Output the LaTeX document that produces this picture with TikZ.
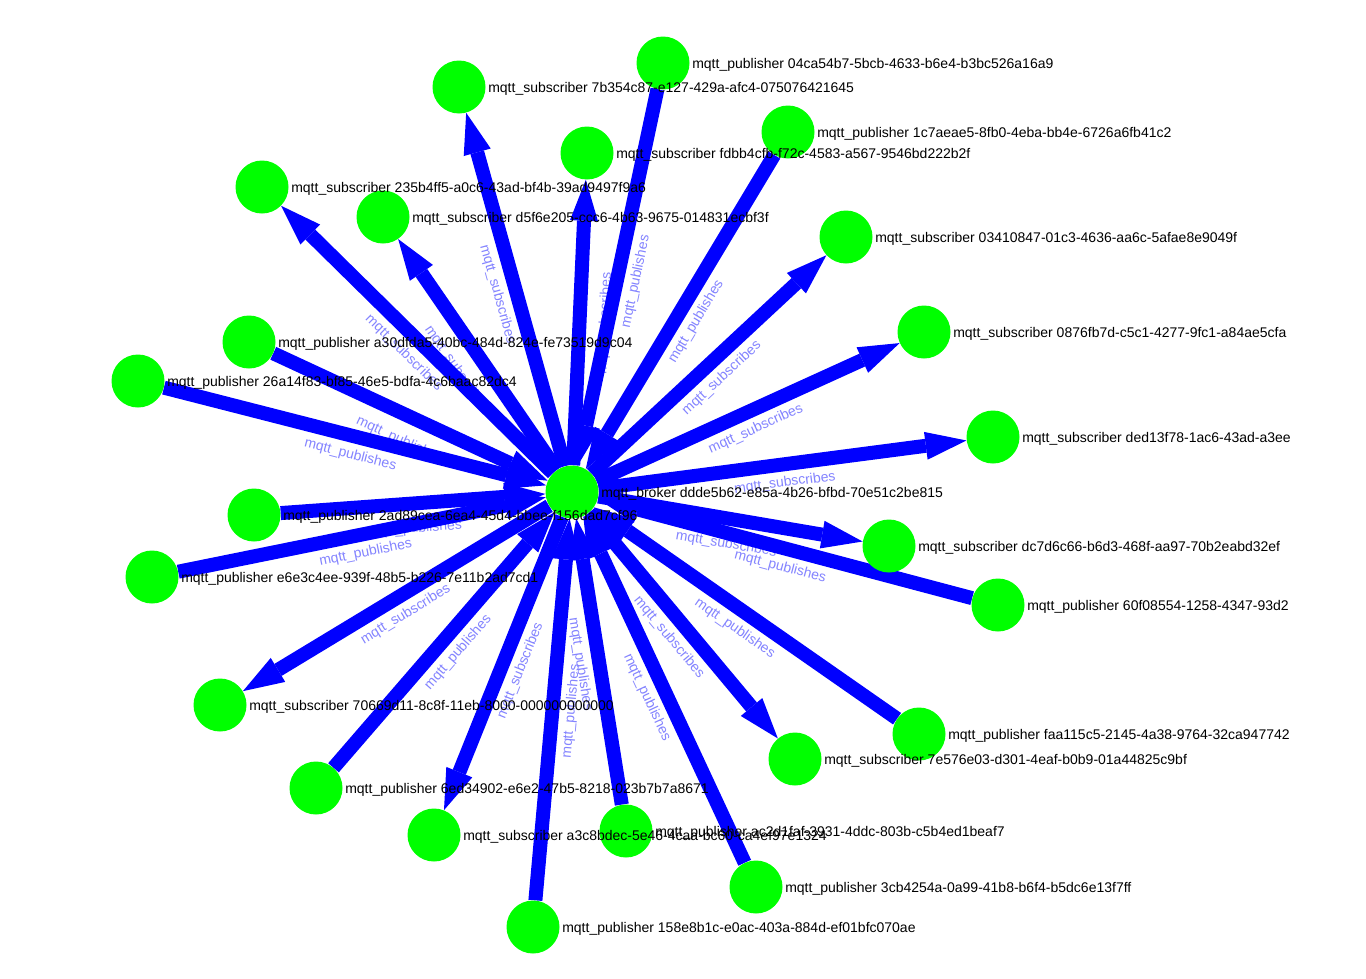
\documentclass[tikz,border=0pt]{standalone}
\usepackage{fontspec}
\setmainfont{Liberation Sans}
\usetikzlibrary{arrows.meta}
\pgfdeclarelayer{edgelayer}
\pgfdeclarelayer{toplayer}
\pgfsetlayers{edgelayer,main,toplayer}
\definecolor{nodegreen}{RGB}{0,255,0}
\definecolor{edgeblue}{RGB}{0,0,255}
\definecolor{elabelcol}{RGB}{132,132,255}
\tikzset{
 dot/.style={circle, fill=nodegreen, draw=none, minimum size=39.75pt, inner sep=0pt},
 nlbl/.style={anchor=base west, font=\fontsize{10.5}{12}\selectfont, text=black, inner sep=0pt},
 link/.style={draw=edgeblue, line width=10.5pt, -{Triangle[length=30.75pt,width=21pt,line width=0pt]}},
 elbl/.style={font=\fontsize{10.5}{12}\selectfont, text=elabelcol, sloped, below=9pt, inner sep=0pt, pos=0.5},
}
\newcommand\lblat[2]{\node[nlbl] at ([xshift=21.75pt,yshift=-3.75pt]#1.center) {#2};}
\begin{document}
\begin{tikzpicture}[x=0.75pt,y=-0.75pt]
\useasboundingbox (0,0) rectangle (1366,978);
% nodes
\node[dot] (br) at (572,492) {};
\node[dot] (p04) at (663,63) {};
\node[dot] (s7b) at (459,87) {};
\node[dot] (p1c) at (788,132) {};
\node[dot] (sfd) at (587,153) {};
\node[dot] (s23) at (262,187) {};
\node[dot] (sd5) at (383,217) {};
\node[dot] (s03) at (846,237) {};
\node[dot] (s08) at (924,332) {};
\node[dot] (sde) at (993,437) {};
\node[dot] (pa3) at (249,342) {};
\node[dot] (p26) at (138,381) {};
\node[dot] (p2a) at (254,515) {};
\node[dot] (pe6) at (152,577) {};
\node[dot] (sdc) at (889,546) {};
\node[dot] (p60) at (998,605) {};
\node[dot] (s70) at (220,705) {};
\node[dot] (pfa) at (919,734) {};
\node[dot] (s7e) at (795,759) {};
\node[dot] (p6e) at (316,788) {};
\node[dot] (sa3) at (434,835) {};
\node[dot] (pac) at (626,831) {};
\node[dot] (p3c) at (756,887) {};
\node[dot] (p15) at (533,927) {};
% edges and edge labels
\begin{pgfonlayer}{edgelayer}
\fill[white] (0,0) rectangle (1366,978);
% edges whose labels are partly covered by later edges
\foreach \p in {p2a,pa3}{\draw[link] (\p) -- node[elbl]{mqtt\_publishes} (br);}
\foreach \s in {sfd,sdc,sd5}{\draw[link] (br) -- node[elbl]{mqtt\_subscribes} (\s);}
% remaining edges
\foreach \p in {p04,p1c,p26,pe6,p60,pfa,p6e,pac,p3c,p15}{\draw[link] (\p) -- (br);}
\foreach \s in {s7b,s23,s03,s08,sde,s70,s7e,sa3}{\draw[link] (br) -- (\s);}
\foreach \p in {p04,p1c,p26,pe6,p60,pfa,p6e,pac,p3c,p15}{\path (\p) -- node[elbl]{mqtt\_publishes} (br);}
\foreach \s in {s7b,s23,s03,s08,sde,s70,s7e,sa3}{\path (br) -- node[elbl]{mqtt\_subscribes} (\s);}
\end{pgfonlayer}
% node labels
\begin{pgfonlayer}{toplayer}
\begin{scope}
\clip (0,0) rectangle (1289,978);
\lblat{br}{mqtt\_broker ddde5b62-e85a-4b26-bfbd-70e51c2be815}
\lblat{p04}{mqtt\_publisher 04ca54b7-5bcb-4633-b6e4-b3bc526a16a9}
\lblat{s7b}{mqtt\_subscriber 7b354c87-e127-429a-afc4-075076421645}
\lblat{p1c}{mqtt\_publisher 1c7aeae5-8fb0-4eba-bb4e-6726a6fb41c2}
\lblat{sfd}{mqtt\_subscriber fdbb4cfb-f72c-4583-a567-9546bd222b2f}
\lblat{s23}{mqtt\_subscriber 235b4ff5-a0c6-43ad-bf4b-39ad9497f9a6}
\lblat{sd5}{mqtt\_subscriber d5f6e205-ccc6-4b63-9675-014831ecbf3f}
\lblat{s03}{mqtt\_subscriber 03410847-01c3-4636-aa6c-5afae8e9049f}
\lblat{s08}{mqtt\_subscriber 0876fb7d-c5c1-4277-9fc1-a84ae5cfa}
\lblat{sde}{mqtt\_subscriber ded13f78-1ac6-43ad-a3ee}
\lblat{pa3}{mqtt\_publisher a30dfda5-40bc-484d-824e-fe73519d9c04}
\lblat{p26}{mqtt\_publisher 26a14f83-bf85-46e5-bdfa-4c6baac82dc4}
\lblat{p2a}{mqtt\_publisher 2ad89cea-6ea4-45d4-bbee-f156dad7cf96}
\lblat{pe6}{mqtt\_publisher e6e3c4ee-939f-48b5-b226-7e11b2ad7cd1}
\lblat{sdc}{mqtt\_subscriber dc7d6c66-b6d3-468f-aa97-70b2eabd32ef}
\lblat{p60}{mqtt\_publisher 60f08554-1258-4347-93d2}
\lblat{s70}{mqtt\_subscriber 70669d11-8c8f-11eb-8000-000000000000}
\lblat{pfa}{mqtt\_publisher faa115c5-2145-4a38-9764-32ca947742}
\lblat{s7e}{mqtt\_subscriber 7e576e03-d301-4eaf-b0b9-01a44825c9bf}
\lblat{p6e}{mqtt\_publisher 6ed34902-e6e2-47b5-8218-023b7b7a8671}
\lblat{sa3}{mqtt\_subscriber a3c8bdec-5e46-4caa-bc60-ca4ef97e1324}
\lblat{pac}{mqtt\_publisher ac2d1faf-3931-4ddc-803b-c5b4ed1beaf7}
\lblat{p3c}{mqtt\_publisher 3cb4254a-0a99-41b8-b6f4-b5dc6e13f7ff}
\lblat{p15}{mqtt\_publisher 158e8b1c-e0ac-403a-884d-ef01bfc070ae}
\end{scope}
\end{pgfonlayer}
\end{tikzpicture}
\end{document}
